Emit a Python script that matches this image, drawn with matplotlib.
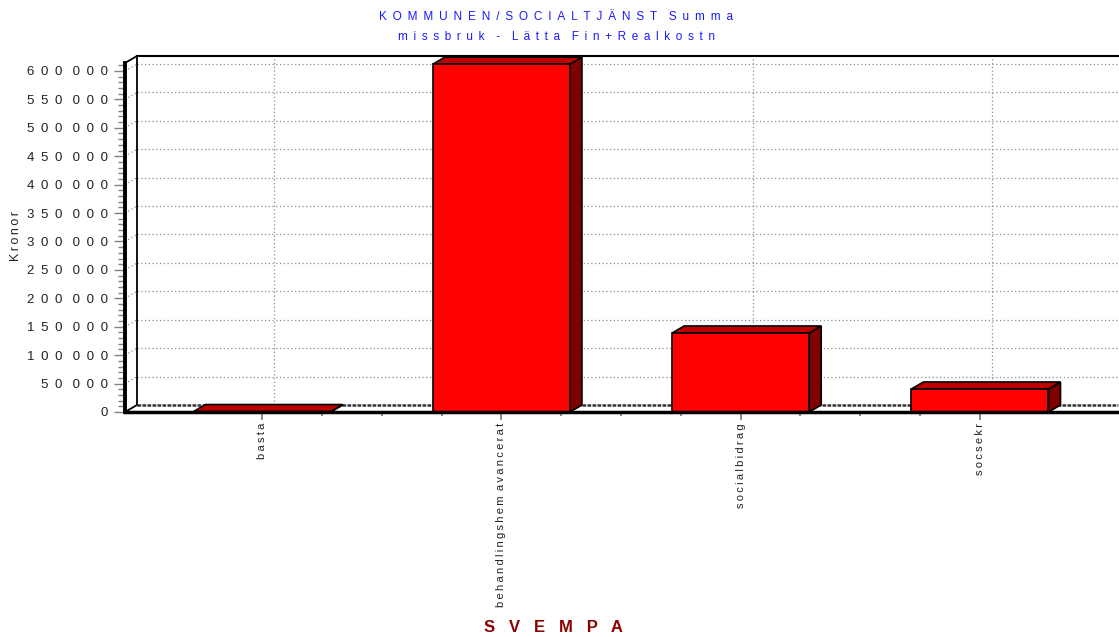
import numpy as np
import matplotlib.pyplot as plt
from matplotlib.patches import Polygon

plt.rcParams['font.family'] = ['Liberation Sans', 'DejaVu Sans']

# data
categories = ['basta', 'behandlingshem avancerat', 'socialbidrag', 'socsekr']
values = [800, 612000, 139000, 40500]
yticks = list(range(0, 600001, 50000))

EN = '\u2002'
THIN = '\u2009'


def spread(s, sep=' ', wsep='   '):
    # mimic the wide letter spacing of the original
    return wsep.join(sep.join(w) for w in s.split(' '))


def ylab(v):
    s = f'{v:,}'.replace(',', ' ')
    return spread(s, EN, EN + ' ')


W, H = 1119, 637
fig = plt.figure(figsize=(W / 100, H / 100), dpi=100)
ax = fig.add_axes([125 / W, 1 - 412 / H, (1118 - 125) / W, (412 - 63) / H])

x0, x1 = -0.573, 3.577
y0, y1 = 0, 614000
ax.set_xlim(x0, x1)
ax.set_ylim(y0, y1)

# depth of the fake 3d box (12 px right, 7 px up)
ddx = 12 / (993 / (x1 - x0))
ddy = 7 * (y1 - y0) / 349

grid_kw = dict(color='#8c8c8c', lw=0.9, ls=(0, (1, 2)), clip_on=False, zorder=1)
# back wall horizontal grid + short diagonals on the side wall
for v in yticks[1:]:
    ax.plot([x0 + ddx, x1 + 0.01], [v + ddy, v + ddy], **grid_kw)
    ax.plot([x0, x0 + ddx], [v, v + ddy], **grid_kw)
# back wall vertical grid at the categories
for i in range(len(categories)):
    ax.plot([i + ddx, i + ddx], [ddy, y1 + ddy], **grid_kw)

# box outline
ax.plot([x0 + ddx, x0 + ddx], [ddy, y1 + ddy], color='black', lw=1.3, clip_on=False, zorder=2)
ax.plot([x0, x0 + ddx], [y1, y1 + ddy], color='black', lw=1.3, clip_on=False, zorder=2)
ax.plot([x0 + ddx, x1 + 0.01], [y1 + ddy, y1 + ddy], color='black', lw=1.5, clip_on=False, zorder=2)
ax.plot([x0, x0 + ddx], [0, ddy], color='black', lw=1.3, clip_on=False, zorder=2)
ax.plot([x0 + ddx, x1], [ddy, ddy], color='#333333', lw=1.8, ls=(0, (1.5, 0.5)), clip_on=False, zorder=2)

# bars
bw = 0.573
for i, v in enumerate(values):
    l, r = i - bw / 2, i + bw / 2
    front = Polygon([(l, 0), (r, 0), (r, v), (l, v)], closed=True,
                    fc='#ff0000', ec='black', lw=1.2, zorder=4, clip_on=False)
    top = Polygon([(l, v), (r, v), (r + ddx, v + ddy), (l + ddx, v + ddy)], closed=True,
                  fc='#c00000', ec='black', lw=1.2, zorder=4, clip_on=False)
    side = Polygon([(r, 0), (r + ddx, ddy), (r + ddx, v + ddy), (r, v)], closed=True,
                   fc='#800000', ec='black', lw=1.2, zorder=4, clip_on=False)
    for p in (side, top, front):
        ax.add_patch(p)

# front floor line
ax.plot([x0, x1], [0, 0], color='black', lw=2.5, clip_on=False, zorder=5)

for s in ['top', 'right', 'bottom']:
    ax.spines[s].set_visible(False)
ax.spines['left'].set_linewidth(2.8)
ax.spines['left'].set_zorder(6)

ax.set_yticks(yticks)
ax.set_yticklabels([ylab(v) for v in yticks], fontsize=9.5, color='#222222')
ax.set_yticks(range(0, 610001, 10000), minor=True)
ax.tick_params(axis='y', which='major', length=8, width=1, color='#808080', pad=4)
ax.tick_params(axis='y', which='minor', length=5, width=1, color='#808080')

ax.set_xticks(range(len(categories)))
ax.set_xticklabels([spread(c, THIN, ' ' + THIN) for c in categories], rotation=90,
                   fontsize=8, color='#222222', va='top', ha='center')
ax.set_xticks(np.arange(0, 3.01, 0.25), minor=True)
ax.tick_params(axis='x', which='major', length=6, width=1.3, color='#808080', pad=2)
ax.tick_params(axis='x', which='minor', length=3, width=1.3, color='#808080')

fig.text(556 / W, 1 - 17 / H, spread('KOMMUNEN/SOCIALTJÄNST Summa', EN, EN + EN),
         ha='center', va='center', color='#1a1aff', fontsize=8.5)
fig.text(556 / W, 1 - 37 / H, spread('missbruk - Lätta Fin+Realkostn', ' ' + THIN, EN + EN),
         ha='center', va='center', color='#1a1aff', fontsize=8.5)
fig.text(16 / W, 1 - 236 / H, spread('Kronor', THIN), rotation=90,
         ha='center', va='center', fontsize=9, color='#222222')
fig.text(553 / W, 1 - 627 / H, spread('SVEMPA', '   '), ha='center', va='center',
         fontsize=12, fontweight='bold', color='#8b0000')

fig.savefig('out.png', dpi=100, facecolor='white')
